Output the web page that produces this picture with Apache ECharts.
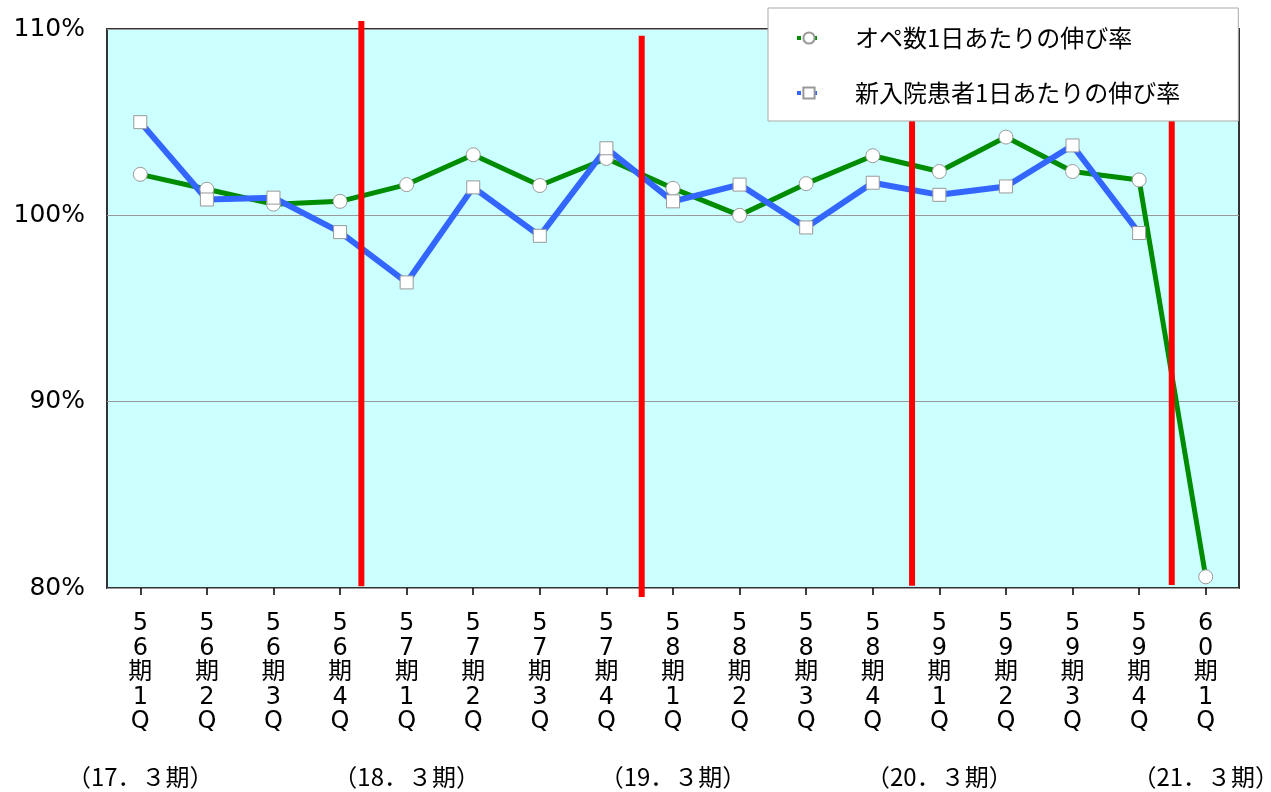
<!DOCTYPE html>
<html>
<head>
<meta charset="utf-8">
<script src="https://cdn.jsdelivr.net/npm/echarts@6/dist/echarts.min.js"></script>
<style>
  html, body { margin: 0; padding: 0; background: #fff; }
  #chartLine { width: 1271px; height: 792px; }
</style>
</head>
<body>
<div id="chartLine"></div>
<script>
// カテゴリ（四半期）
const categories = [
  '56期1Q', '56期2Q', '56期3Q', '56期4Q',
  '57期1Q', '57期2Q', '57期3Q', '57期4Q',
  '58期1Q', '58期2Q', '58期3Q', '58期4Q',
  '59期1Q', '59期2Q', '59期3Q', '59期4Q',
  '60期1Q'
];
// 下段の決算期ラベル
const periodLabels = [
  '（17．３期）', '', '', '',
  '（18．３期）', '', '', '',
  '（19．３期）', '', '', '',
  '（20．３期）', '', '', '',
  '（21．３期）'
];
// オペ数1日あたりの伸び率 (%)
const opeRate = [
  102.2, 101.4, 100.6, 100.75,
  101.65, 103.25, 101.6, 103.05,
  101.45, 100.0, 101.7, 103.2,
  102.35, 104.2, 102.35, 101.9,
  80.6
];
// 新入院患者1日あたりの伸び率 (%)
const admitRate = [
  105.0, 100.85, 100.95, 99.1,
  96.4, 101.5, 98.9, 103.6,
  100.75, 101.65, 99.35, 101.75,
  101.1, 101.55, 103.75, 99.05
];
// 期の区切り線（カテゴリ幅単位の位置と上下端の値）
const dividerX = [3.82, 8.03, 12.09, 15.99];
const dividerTop = [110.43, 109.64, 110, 110];
const dividerBottom = [80.1, 79.52, 80.12, 80.16];
const yTicks = [80, 90, 100, 110];

const numFont = '"DejaVu Sans", "Noto Sans CJK JP", sans-serif';
const jpFont = '"Noto Sans CJK JP", sans-serif';

const myChart = echarts.init(document.getElementById('chartLine'));

const dividerSeries = dividerX.map((x, i) => ({
  name: 'divider' + i,
  type: 'line',
  xAxisIndex: 2,
  clip: false,
  silent: true,
  symbol: 'none',
  z: 3,
  lineStyle: { color: '#ff0000', width: 6 },
  data: [[x, dividerBottom[i]], [x, dividerTop[i]]]
}));

const option = {
  animation: false,
  grid: {
    left: 107,
    right: 32,
    top: 29,
    bottom: 204,
    outerBoundsMode: 'none',
    containLabel: false,
    show: true,
    backgroundColor: '#ccffff',
    borderColor: '#333',
    borderWidth: 2
  },
  legend: {
    data: ['オペ数1日あたりの伸び率', '新入院患者1日あたりの伸び率'],
    orient: 'vertical',
    left: 768,
    top: 8,
    padding: [18, 58, 16, 27],
    itemGap: 31,
    itemWidth: 24,
    itemHeight: 14,
    backgroundColor: '#ffffff',
    borderColor: '#aaaaaa',
    borderWidth: 1,
    z: 10,
    lineStyle: { width: 4, type: 'dotted' },
    textStyle: {
      fontFamily: jpFont,
      fontSize: 24,
      color: '#000',
      padding: [0, 0, 0, 29]
    }
  },
  xAxis: [{
    type: 'category',
    data: categories,
    boundaryGap: true,
    axisLine: { show: false },
    axisTick: {
      show: true,
      alignWithLabel: true,
      length: 7,
      lineStyle: { color: '#000', width: 1.5 }
    },
    axisLabel: {
      interval: 0,
      margin: 24,
      fontFamily: numFont,
      fontSize: 24,
      lineHeight: 24.5,
      color: '#000',
      formatter: function (value) {
        return value.split('').join('\n');
      }
    }
  }, {
    type: 'category',
    data: periodLabels,
    position: 'bottom',
    axisLine: { show: false },
    axisTick: { show: false },
    axisLabel: {
      interval: 0,
      margin: 177,
      fontFamily: jpFont,
      fontSize: 24,
      color: '#000'
    }
  }, {
    type: 'value',
    min: 0,
    max: 17,
    show: false
  }],
  yAxis: {
    type: 'value',
    min: yTicks[0],
    max: yTicks[yTicks.length - 1],
    interval: 10,
    axisLine: { show: false },
    axisTick: { show: false },
    splitLine: { lineStyle: { color: '#999', width: 1 } },
    axisLabel: {
      margin: 22,
      fontFamily: numFont,
      fontSize: 25,
      color: '#000',
      formatter: '{value}%'
    }
  },
  series: [{
    name: 'オペ数1日あたりの伸び率',
    type: 'line',
    data: opeRate,
    symbol: 'circle',
    symbolSize: 14,
    z: 2,
    lineStyle: { color: '#008c00', width: 5 },
    itemStyle: { color: '#ffffff', borderColor: '#999', borderWidth: 1 }
  }, {
    name: '新入院患者1日あたりの伸び率',
    type: 'line',
    data: admitRate,
    symbol: 'rect',
    symbolSize: 13,
    z: 2,
    lineStyle: { color: '#3366ff', width: 6 },
    itemStyle: { color: '#ffffff', borderColor: '#999', borderWidth: 1 }
  }].concat(dividerSeries)
};

myChart.setOption(option);
</script>
</body>
</html>
